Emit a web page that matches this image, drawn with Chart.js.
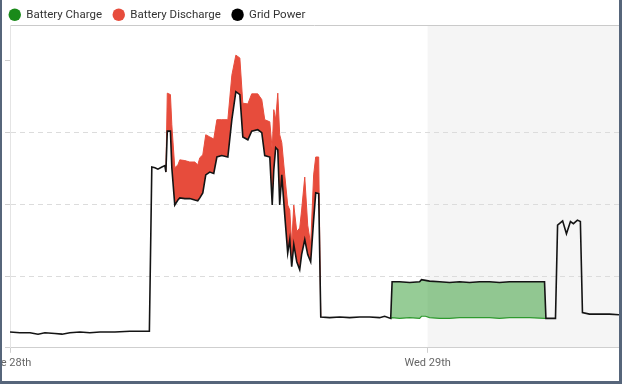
<!DOCTYPE html>
<html><head><meta charset="utf-8">
<script src="https://cdn.jsdelivr.net/npm/chart.js@4/dist/chart.umd.min.js"></script>
<style>
html,body{margin:0;padding:0;background:#fff;}
#wrap{position:relative;width:622px;height:384px;overflow:hidden;}
#frame{position:absolute;left:0;top:0;width:622px;height:384px;box-sizing:border-box;border-left:2px solid #56657a;border-right:3px solid #56657a;border-bottom:3px solid #56657a;pointer-events:none;}
canvas{position:absolute;left:0;top:0;}
</style></head><body>
<div id="wrap"><canvas id="c" width="622" height="384"></canvas><div id="frame"></div></div>
<script>
// hours since Tue 28th 00:00
const hours = [
 0.00,0.57,1.15,1.61,2.01,2.58,2.99,3.44,4.02,4.59,5.17,6.03,6.89,7.92,8.01,
 8.15,8.33,8.50,8.73,8.90,8.96,9.04,9.22,9.30,9.47,9.65,9.76,10.05,10.33,10.62,
 10.79,10.91,11.08,11.25,11.48,11.71,11.89,12.17,12.52,12.75,12.98,13.21,13.38,13.67,13.89,
 14.24,14.47,14.64,14.93,15.07,15.16,15.27,15.39,15.50,15.62,15.79,15.96,16.08,16.19,16.31,
 16.48,16.65,16.76,16.94,17.11,17.28,17.45,17.57,17.74,17.86,
 18.37,18.95,19.52,20.10,20.67,21.24,21.53,21.88,21.96,22.39,
 22.97,23.54,23.65,23.88,24.11,24.69,25.26,25.84,26.41,26.99,
 27.56,28.13,28.71,29.28,29.86,30.72,30.80,31.35,31.47,31.76,
 31.98,32.21,32.38,32.61,32.78,32.90,33.30,33.88,34.45,35.00
];
const gridPower = [
 0.22,0.21,0.21,0.19,0.21,0.20,0.19,0.21,0.22,0.21,0.22,0.22,0.23,0.23,0.23,
 2.52,2.51,2.49,2.52,2.54,2.45,3.02,3.02,2.51,1.99,2.06,2.09,2.08,2.08,2.06,
 2.05,2.09,2.16,2.41,2.45,2.43,2.66,2.68,2.66,3.18,3.57,3.53,2.94,2.90,3.02,
 3.04,3.00,2.68,2.66,1.99,2.48,2.79,2.76,1.99,2.41,1.85,1.32,1.51,1.13,1.44,
 1.20,1.09,1.30,1.51,1.30,1.20,1.78,2.16,2.15,0.43,
 0.42,0.43,0.42,0.43,0.43,0.42,0.44,0.41,0.92,0.92,
 0.91,0.92,0.95,0.94,0.93,0.92,0.91,0.92,0.91,0.92,
 0.92,0.91,0.92,0.92,0.92,0.92,0.41,0.41,1.71,1.77,
 1.59,1.76,1.73,1.78,1.76,0.49,0.47,0.47,0.47,0.46
];
// upper edge of the discharge band (grid + battery discharge)
const batteryDischarge = [
 null,null,null,null,null,null,null,null,null,null,null,null,null,null,null,
 null,null,null,null,null,2.45,3.55,3.53,3.11,2.51,2.55,2.62,2.61,2.59,2.59,
 2.55,2.65,2.69,2.97,2.94,2.91,3.18,3.18,3.18,3.80,4.08,4.04,3.41,3.40,3.54,
 3.54,3.46,3.18,3.15,2.76,3.32,3.18,3.55,2.97,2.86,2.41,1.99,1.92,1.44,1.99,
 1.62,1.67,1.92,2.38,1.71,1.44,2.41,2.66,2.66,0.43,
 null,null,null,null,null,null,null,null,null,null,
 null,null,null,null,null,null,null,null,null,null,
 null,null,null,null,null,null,null,null,null,null,
 null,null,null,null,null,null,null,null,null,null
];
// lower edge of the charge band (grid - battery charge)
const batteryCharge = [
 null,null,null,null,null,null,null,null,null,null,null,null,null,null,null,
 null,null,null,null,null,null,null,null,null,null,null,null,null,null,null,
 null,null,null,null,null,null,null,null,null,null,null,null,null,null,null,
 null,null,null,null,null,null,null,null,null,null,null,null,null,null,null,
 null,null,null,null,null,null,null,null,null,null,
 null,null,null,null,null,null,null,0.41,0.42,0.41,
 0.42,0.41,0.44,0.44,0.42,0.41,0.41,0.42,0.42,0.42,
 0.42,0.41,0.42,0.42,0.42,0.41,0.41,null,null,null,
 null,null,null,null,null,null,null,null,null,null
];
const seriesNames = ['Battery Charge','Battery Discharge','Grid Power'];
const xTickValues = [0, 24];
const xTickLabels = ['Tue 28th', 'Wed 29th'];
const forecastStart = 24;

const lineColors = ['#2e9a2e', '#e74c3c', '#141414'];
const fillColors = ['rgba(46,154,46,0.5)', '#e74c3c', 'transparent'];
const legendColors = ['#1a8a1a', '#e74c3c', '#000000'];

const toPts = arr => hours.map((h, i) => ({x: h, y: arr[i]}));

const backdrop = {
  id: 'backdrop',
  beforeDraw(chart) {
    const {ctx, chartArea: a, scales: {x}} = chart;
    const xs = x.getPixelForValue(forecastStart);
    ctx.save();
    ctx.fillStyle = '#f5f5f5';
    ctx.fillRect(xs, a.top, a.right - xs, a.bottom - a.top);
    ctx.strokeStyle = '#cacaca';
    ctx.lineWidth = 1;
    ctx.beginPath();
    ctx.moveTo(a.left, Math.round(a.top) + 0.5);
    ctx.lineTo(a.right, Math.round(a.top) + 0.5);
    ctx.stroke();
    ctx.restore();
  }
};

new Chart(document.getElementById('c'), {
  type: 'line',
  data: {
    datasets: [
      {label: seriesNames[0], data: toPts(batteryCharge), borderColor: lineColors[0], backgroundColor: fillColors[0], borderWidth: 1.2, fill: 2},
      {label: seriesNames[1], data: toPts(batteryDischarge), borderColor: lineColors[1], backgroundColor: fillColors[1], borderWidth: 1, fill: 2},
      {label: seriesNames[2], data: toPts(gridPower), borderColor: lineColors[2], backgroundColor: lineColors[2], borderWidth: 1.6, fill: false, order: -1}
    ]
  },
  plugins: [backdrop],
  options: {
    responsive: false,
    animation: false,
    spanGaps: false,
    elements: {point: {radius: 0}, line: {tension: 0}},
    layout: {padding: {left: -2, right: 3, top: -2, bottom: 10}},
    plugins: {
      tooltip: {enabled: false},
      legend: {
        position: 'top', align: 'start', maxHeight: 27,
        labels: {
          usePointStyle: true, pointStyle: 'circle', boxHeight: 8.8, padding: 11,
          color: '#333', font: {family: 'Roboto', size: 11.5},
          sort: (a, b) => a.datasetIndex - b.datasetIndex,
          generateLabels: chart => Chart.defaults.plugins.legend.labels.generateLabels(chart).map(l => {
            l.fillStyle = legendColors[l.datasetIndex];
            l.strokeStyle = legendColors[l.datasetIndex];
            l.lineWidth = 0;
            l.pointStyle = 'circle';
            return l;
          })
        }
      }
    },
    scales: {
      x: {
        type: 'linear', min: 0, max: 35,
        afterFit: s => { s.paddingLeft = 0; s.paddingRight = 0; },
        afterBuildTicks: s => { s.ticks = xTickValues.map(v => ({value: v})); },
        ticks: {
          autoSkip: false, maxRotation: 0, padding: 4, color: '#666',
          font: {family: 'Roboto', size: 11},
          callback: v => { const i = xTickValues.indexOf(v); return i >= 0 ? xTickLabels[i] : ''; }
        },
        grid: {drawOnChartArea: false, tickLength: 5, tickColor: '#cfcfcf'},
        border: {color: '#cfcfcf'}
      },
      y: {
        min: 0, max: 4.5,
        afterFit: s => { s.width = 12; },
        ticks: {display: false, stepSize: 1, includeBounds: false},
        grid: {
          tickLength: 5, tickColor: '#cfcfcf',
          color: c => (c.tick && c.tick.value >= 1 && c.tick.value <= 3) ? '#dcdcdc' : 'rgba(0,0,0,0)'
        },
        border: {color: '#e4e4e4', dash: [5, 4]}
      }
    }
  }
});
</script>
</body></html>
